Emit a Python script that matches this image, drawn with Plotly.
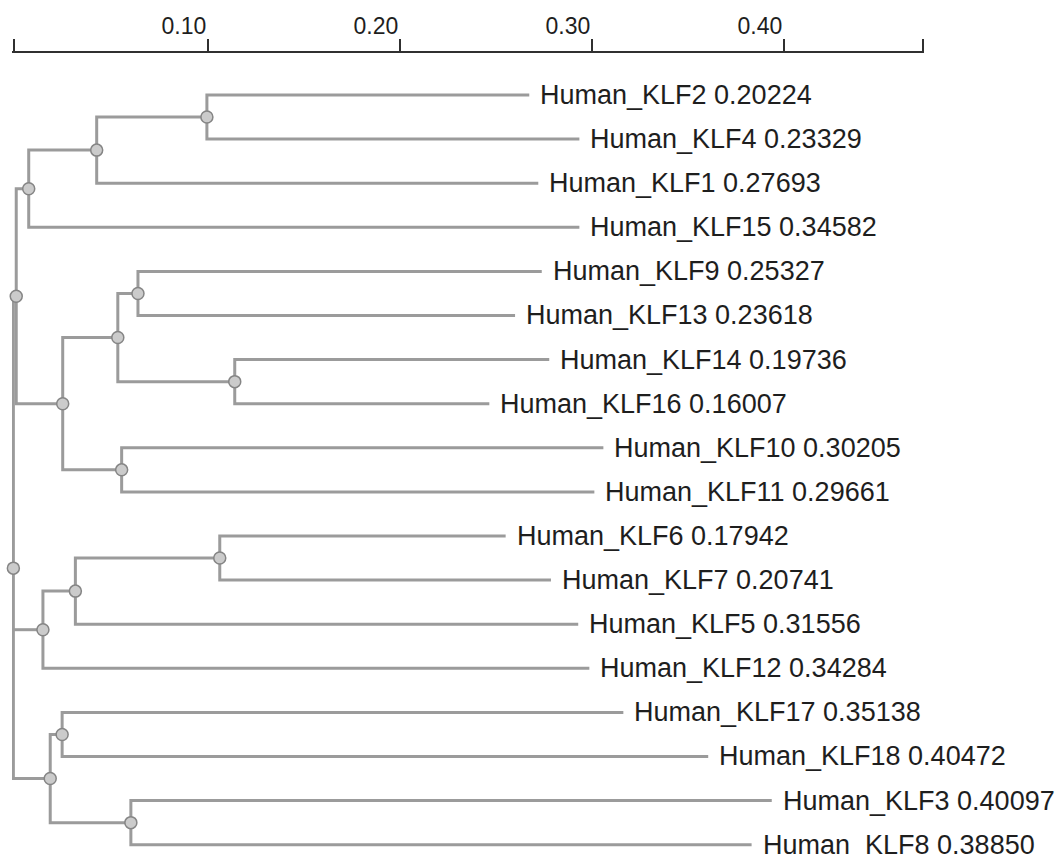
import plotly.graph_objects as go

# ---- data ----
leaf_names = ["Human_KLF2", "Human_KLF4", "Human_KLF1", "Human_KLF15",
              "Human_KLF9", "Human_KLF13", "Human_KLF14", "Human_KLF16",
              "Human_KLF10", "Human_KLF11", "Human_KLF6", "Human_KLF7",
              "Human_KLF5", "Human_KLF12", "Human_KLF17", "Human_KLF18",
              "Human_KLF3", "Human_KLF8"]
leaf_values = ["0.20224", "0.23329", "0.27693", "0.34582",
               "0.25327", "0.23618", "0.19736", "0.16007",
               "0.30205", "0.29661", "0.17942", "0.20741",
               "0.31556", "0.34284", "0.35138", "0.40472",
               "0.40097", "0.38850"]
leaf_depth = [0.2672, 0.2933, 0.2719, 0.2933,
              0.2737, 0.2598, 0.2776, 0.2464,
              0.3058, 0.3011, 0.2549, 0.2785,
              0.2927, 0.2985, 0.3162, 0.3604,
              0.3935, 0.3830]

node_names = ["R", "A", "T", "T1", "T2", "M", "M1", "M2", "M3", "M4",
              "L", "L1", "L2", "N", "N1", "N2"]
node_depth = [-0.0015, 0.0000, 0.0065, 0.0419, 0.0993, 0.0242, 0.0529,
              0.0634, 0.1138, 0.0549, 0.0139, 0.0308, 0.1060, 0.0177,
              0.0239, 0.0597]
node_children = [["A", "L", "N"],
                 ["T", "M"],
                 ["T1", "Human_KLF15"],
                 ["T2", "Human_KLF1"],
                 ["Human_KLF2", "Human_KLF4"],
                 ["M1", "M4"],
                 ["M2", "M3"],
                 ["Human_KLF9", "Human_KLF13"],
                 ["Human_KLF14", "Human_KLF16"],
                 ["Human_KLF10", "Human_KLF11"],
                 ["L1", "Human_KLF12"],
                 ["L2", "Human_KLF5"],
                 ["Human_KLF6", "Human_KLF7"],
                 ["N1", "N2"],
                 ["Human_KLF17", "Human_KLF18"],
                 ["Human_KLF3", "Human_KLF8"]]

tick_vals = [-0.0012, 0.10, 0.20, 0.30, 0.40, 0.4722]
tick_text = ["", "0.10", "0.20", "0.30", "0.40", ""]

# ---- build tree geometry ----
xpos = {}
ypos = {}
for i, n in enumerate(leaf_names):
    xpos[n] = leaf_depth[i]
    ypos[n] = i
children = {}
for n, d, ch in zip(node_names, node_depth, node_children):
    xpos[n] = d
    children[n] = ch


def get_y(n):
    if n in ypos:
        return ypos[n]
    ys = [get_y(c) for c in children[n]]
    ypos[n] = sum(ys) / len(ys)
    return ypos[n]


for n in node_names:
    get_y(n)

lx, ly = [], []
for n in node_names:
    ch = children[n]
    px = xpos[n]
    first, last = ch[0], ch[-1]
    lx += [xpos[first], px, px, xpos[last], None]
    ly += [ypos[first], ypos[first], ypos[last], ypos[last], None]
    for c in ch[1:-1]:
        lx += [px, xpos[c], None]
        ly += [ypos[c], ypos[c], None]

fig = go.Figure()
fig.add_trace(go.Scatter(
    x=lx, y=ly, mode="lines",
    line=dict(color="rgb(155,155,155)", width=3),
    hoverinfo="skip", showlegend=False))
fig.add_trace(go.Scatter(
    x=[xpos[n] for n in node_names], y=[ypos[n] for n in node_names],
    mode="markers",
    marker=dict(size=12, color="#cbcbcb",
                line=dict(color="#858585", width=1.5)),
    cliponaxis=False, hoverinfo="skip", showlegend=False))

for n, v in zip(leaf_names, leaf_values):
    fig.add_annotation(
        x=xpos[n], y=ypos[n], text=f"{n} {v}",
        showarrow=False, xanchor="left", yanchor="middle", xshift=9,
        font=dict(family="Liberation Sans, Arial", size=27, color="#1e1e1e"))

fig.update_layout(
    width=1057, height=858,
    margin=dict(l=12, r=133, t=53, b=0),
    paper_bgcolor="white", plot_bgcolor="white",
    xaxis=dict(side="top", range=[-0.00221, 0.47279],
               showline=True, linecolor="#303030", linewidth=2,
               ticks="outside", ticklen=12, tickwidth=2, tickcolor="#303030",
               tickvals=tick_vals, ticktext=tick_text,
               ticklabelposition="outside left",
               ticklabelstandoff=8,
               tickfont=dict(family="Liberation Sans, Arial", size=23,
                             color="#1e1e1e"),
               showgrid=False, zeroline=False, fixedrange=True),
    yaxis=dict(range=[17.302, -0.9524], visible=False, fixedrange=True),
)

fig.write_html("out.html",
               config={"displayModeBar": False},
               post_script="document.body.style.margin='0';"
                           "document.body.style.overflow='hidden';")
